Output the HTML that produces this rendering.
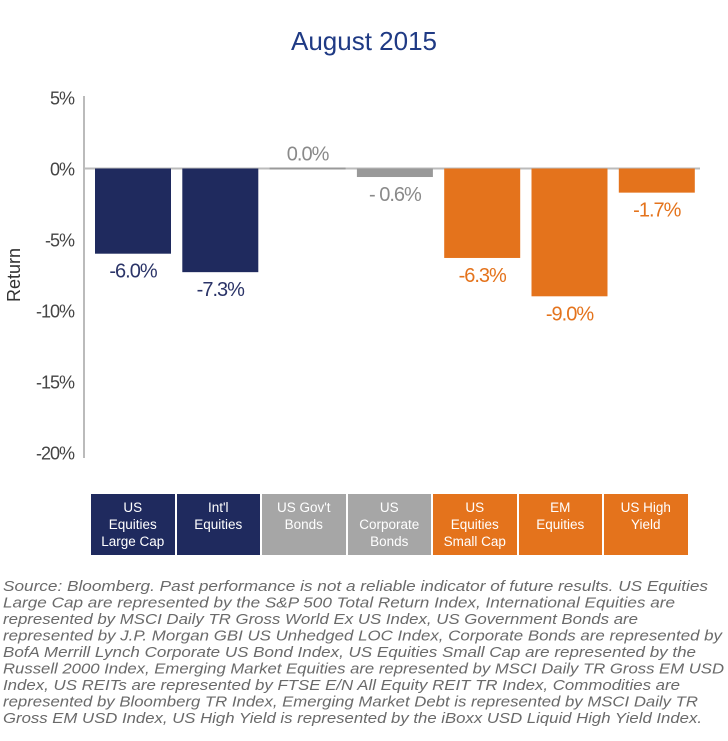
<!DOCTYPE html>
<html><head><meta charset="utf-8"><style>
body{margin:0;background:#fff;width:728px;height:741px;overflow:hidden;font-family:"Liberation Sans",sans-serif;}
#title{position:absolute;left:0;width:728px;top:26px;text-align:center;font-size:26px;color:#1f3a84;}
.cat{position:absolute;top:494px;height:61px;color:#fff;font-size:13.5px;line-height:17px;text-align:center;padding-top:5px;box-sizing:border-box;}
</style></head><body>
<div id="title">August 2015</div>
<svg id="chart" width="728" height="480" style="position:absolute;left:0;top:0"></svg>
<div id="cats"></div>
<svg width="728" height="170" style="position:absolute;left:0;top:571px" font-family="Liberation Sans, sans-serif" font-style="italic" font-size="15" fill="#6a6a6a">
<text x="3" y="20" textLength="705" lengthAdjust="spacingAndGlyphs">Source: Bloomberg. Past performance is not a reliable indicator of future results. US Equities</text>
<text x="3" y="36.5" textLength="672" lengthAdjust="spacingAndGlyphs">Large Cap are represented by the S&amp;P 500 Total Return Index, International Equities are</text>
<text x="3" y="53" textLength="635" lengthAdjust="spacingAndGlyphs">represented by MSCI Daily TR Gross World Ex US Index, US Government Bonds are</text>
<text x="3" y="69.5" textLength="719" lengthAdjust="spacingAndGlyphs">represented by J.P. Morgan GBI US Unhedged LOC Index, Corporate Bonds are represented by</text>
<text x="3" y="86" textLength="693" lengthAdjust="spacingAndGlyphs">BofA Merrill Lynch Corporate US Bond Index, US Equities Small Cap are represented by the</text>
<text x="3" y="102.5" textLength="721" lengthAdjust="spacingAndGlyphs">Russell 2000 Index, Emerging Market Equities are represented by MSCI Daily TR Gross EM USD</text>
<text x="3" y="119" textLength="677" lengthAdjust="spacingAndGlyphs">Index, US REITs are represented by FTSE E/N All Equity REIT TR Index, Commodities are</text>
<text x="3" y="135.5" textLength="695" lengthAdjust="spacingAndGlyphs">represented by Bloomberg TR Index, Emerging Market Debt is represented by MSCI Daily TR</text>
<text x="3" y="152" textLength="699" lengthAdjust="spacingAndGlyphs">Gross EM USD Index, US High Yield is represented by the iBoxx USD Liquid High Yield Index.</text>
</svg>
<script>
const categories=["US<br>Equities<br>Large Cap","Int'l<br>Equities","US Gov't<br>Bonds","US<br>Corporate<br>Bonds","US<br>Equities<br>Small Cap","EM<br>Equities","US High<br>Yield"];
const values=[-6.0,-7.3,0.0,-0.6,-6.3,-9.0,-1.7];
const valueLabels=["-6.0%","-7.3%","0.0%","-  0.6%","-6.3%","-9.0%","-1.7%"];
const colorGroups=["navy","navy","gray","gray","orange","orange","orange"];
const ticks=[5,0,-5,-10,-15,-20];
const pal={navy:"#1f2a5e",gray:"#999999",orange:"#e4731c"};
const labPal={navy:"#2b3468",gray:"#8a8a8a",orange:"#e4731c"};
const boxPal={navy:"#1f2a5e",gray:"#a6a6a6",orange:"#e4731c"};
const y=v=>168.5-v*14.2;
const xb=i=>95+i*87.3;
const svg=document.getElementById('chart');
const NS="http://www.w3.org/2000/svg";
function mk(t,a){const e=document.createElementNS(NS,t);for(const k in a)e.setAttribute(k,a[k]);svg.appendChild(e);return e;}
const ax=mk('line',{x1:84,x2:84,y1:96,y2:458,stroke:'#bbb','stroke-width':2});


const zl=mk('line',{x1:84,x2:700,y1:y(0),y2:y(0),stroke:'#bbb','stroke-width':2});


ticks.forEach(t=>{const e=mk('text',{x:74,y:y(t)+7,'text-anchor':'end','font-size':18,fill:'#444','font-family':'Liberation Sans, sans-serif','letter-spacing':'-1'});e.textContent=t+'%';

});
const yt=mk('text',{x:0,y:0,transform:'translate(20,275) rotate(-90)','text-anchor':'middle','font-size':18,fill:'#333','font-family':'Liberation Sans, sans-serif'});yt.textContent='Return';


values.forEach((v,i)=>{
 const top=Math.min(y(0),y(v)),h=Math.max(Math.abs(y(v)-y(0)),2);
 const r=mk('rect',{x:xb(i),y:v===0?y(0)-1:top,width:76,height:h,fill:pal[colorGroups[i]]});
 
 
 const ly=v===0?y(0)-8:y(v)+24;
 const t=mk('text',{x:xb(i)+38,y:ly,'text-anchor':'middle','font-size':20,fill:labPal[colorGroups[i]],'font-family':'Liberation Sans, sans-serif','letter-spacing':'-1'});t.textContent=valueLabels[i];
 
 
});
const cw=document.getElementById('cats');
categories.forEach((c,i)=>{const d=document.createElement('div');d.className='cat';d.style.left=(91+i*85.5)+'px';d.style.width='83.5px';d.style.background=boxPal[colorGroups[i]];d.innerHTML=c;


cw.appendChild(d);});
</script>
</body></html>
